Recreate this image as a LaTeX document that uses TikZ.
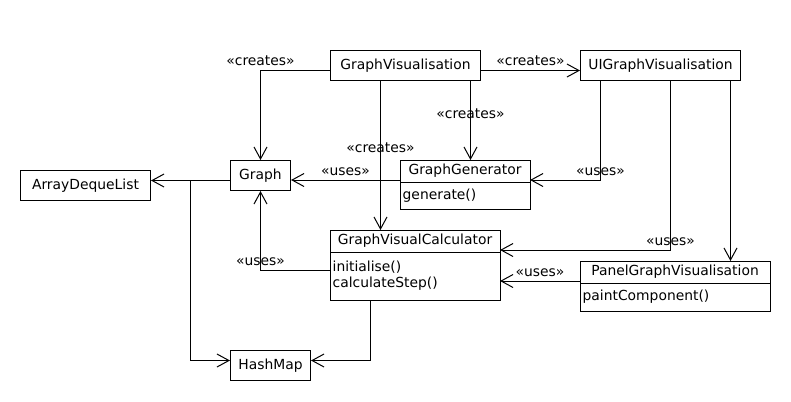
\documentclass[tikz,border=0pt]{standalone}
\usepackage{fontspec}
\setmainfont{DejaVu Sans}
\usetikzlibrary{arrows.meta, positioning}

\begin{document}
\begin{tikzpicture}[
    x=0.75pt, y=-0.75pt,
    every node/.style={font=\fontsize{10.4}{12}\selectfont},
    box/.style={rectangle, draw=black, line width=0.75pt, minimum height=22.5pt, inner sep=2pt, anchor=north west},
    head/.style={rectangle, draw=black, line width=0.75pt, minimum height=16.5pt, inner sep=2pt, outer sep=0pt, anchor=north west},
    meth/.style={rectangle, draw=black, line width=0.75pt, inner xsep=2pt, inner ysep=2pt, outer sep=0pt, align=left},
    lbl/.style={inner sep=3pt},
    arrow/.style={-{Straight Barb[length=9pt, width=9.75pt]}, line width=0.75pt}
]
\useasboundingbox (0,0) rectangle (791,401);

% NODES
\node[box, minimum width=112.5pt] (vis) at (330,50) {GraphVisualisation};
\node[box, minimum width=120pt] (uivis) at (580,50) {UIGraphVisualisation};
\node[box, minimum width=97.5pt] (adl) at (20,170) {ArrayDequeList};
\node[box, minimum width=45pt] (graph) at (230,160) {Graph};
\node[box, minimum width=60pt] (hm) at (230,350) {HashMap};

\node[head, minimum width=97.5pt] (gen) at (400,160) {GraphGenerator};
\node[meth, text width=93.5pt, minimum height=20.25pt, below=0pt of gen] (gen-m) {generate()};

\node[head, minimum width=127.5pt] (calc) at (330,230) {GraphVisualCalculator};
\node[meth, text width=123.5pt, minimum height=36pt, below=0pt of calc] (calc-m) {initialise()\\calculateStep()\\[3pt]};

\node[head, minimum width=142.5pt] (panel) at (580,261) {PanelGraphVisualisation};
\node[meth, text width=138.5pt, minimum height=21pt, below=0pt of panel] (panel-m) {paintComponent()};

% ARROWS
\draw[arrow] ([yshift=-3.75pt]vis.west) -| node[lbl, above] {«creates»} (graph.north);
\draw[arrow] ([yshift=-3.75pt]vis.east) -- node[lbl, above] {«creates»} ([yshift=-3.75pt]uivis.west);
\draw[arrow] ([xshift=-18.75pt]vis.south) -- node[lbl, pos=0.45] {«creates»} ([xshift=-18.75pt]vis.south |- calc.north);
\draw[arrow] ([xshift=48.75pt]vis.south) -- node[lbl, pos=0.41] {«creates»} ([xshift=48.75pt]vis.south |- gen.north);
\draw[arrow] ([xshift=-45pt]uivis.south) |- node[lbl, above] {«uses»} ([yshift=-6.75pt]gen.east);
\draw[arrow] ([xshift=7.5pt]uivis.south) |- node[lbl, above] {«uses»} ([yshift=-6.75pt]calc.east);
\draw[arrow] ([xshift=52.5pt]uivis.south) -- ([xshift=52.5pt]uivis.south |- panel.north);
\draw[arrow] ([yshift=-6.75pt]panel.west) -- node[lbl, above] {«uses»} ([yshift=-6.75pt]panel.west -| calc-m.east);
\draw[arrow] ([yshift=-6.75pt]gen.west) -- node[lbl, above] {«uses»} ([yshift=-6.75pt]gen.west -| graph.east);
\draw[arrow] ([yshift=4.5pt]calc-m.west) -| node[lbl, above] {«uses»} (graph.south);
\draw[arrow] ([yshift=-3.75pt]graph.west) -- ([yshift=-3.75pt]graph.west -| adl.east);
\draw[arrow] ([xshift=-30pt, yshift=-3.75pt]graph.west) |- ([yshift=3.75pt]hm.west);
\draw[arrow] ([xshift=-33.75pt]calc-m.south) |- ([yshift=3.75pt]hm.east);

\end{tikzpicture}
\end{document}
